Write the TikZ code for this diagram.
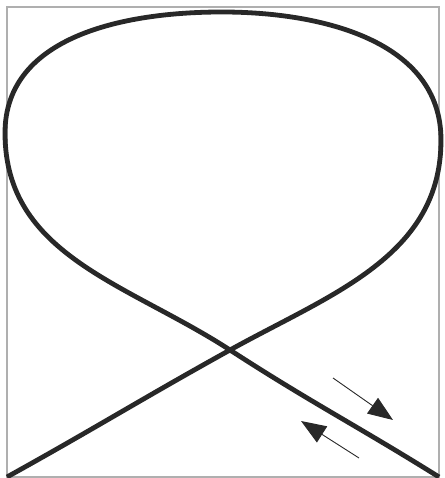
\documentclass[tikz,border=0pt]{standalone}
\usepackage{tikz}
\usetikzlibrary{arrows.meta}
\definecolor{loopgray}{RGB}{40, 40, 40}
\definecolor{framegray}{RGB}{175, 175, 175}

\begin{document}
\begin{tikzpicture}[
    x=1pt, y=1pt,
    frame/.style={draw=framegray, line width=1.5pt},
    strand/.style={draw=loopgray, line width=4.8pt},
    dirarr/.style={draw=loopgray, line width=0.9pt,
                   -{Triangle[length=25pt, width=19pt]}}
]
    \useasboundingbox (0,0) rectangle (444,478);
    \draw[frame] (7,1) rectangle (439,471);

    % points of the loop
    \coordinate (start) at (7,1);
    \coordinate (cross) at (230,128);
    \coordinate (rgt) at (441,338);
    \coordinate (top) at (222,466);
    \coordinate (lft) at (5,345);
    \coordinate (stop) at (439,1);

    \draw[strand] (start) to[out=29, in=209] (cross)
        to[out=29, in=-90] (rgt)
        to[out=90, in=0] (top)
        to[out=180, in=90] (lft)
        to[out=-90, in=147] (cross)
        to[out=-33, in=148] (stop);

    % direction arrows
    \coordinate (a1) at (333,100);
    \coordinate (a2) at (393,58);
    \coordinate (b1) at (359,20);
    \coordinate (b2) at (301,57);
    \draw[dirarr] (a1) -- (a2);
    \draw[dirarr] (b1) -- (b2);
\end{tikzpicture}
\end{document}
